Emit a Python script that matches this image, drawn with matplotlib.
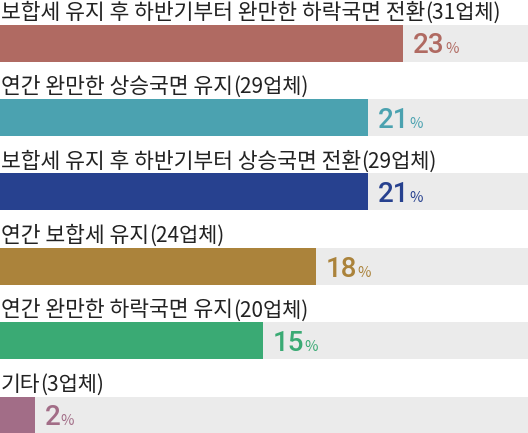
import matplotlib
matplotlib.use("Agg")
import matplotlib.pyplot as plt

plt.rcParams["font.family"] = ["Noto Sans CJK KR", "DejaVu Sans"]

labels = [
    "보합세 유지 후 하반기부터 완만한 하락국면 전환",
    "연간 완만한 상승국면 유지",
    "보합세 유지 후 하반기부터 상승국면 전환",
    "연간 보합세 유지",
    "연간 완만한 하락국면 유지",
    "기타",
]
counts = ["(31업체)", "(29업체)", "(29업체)", "(24업체)", "(20업체)", "(3업체)"]
shares = [23, 21, 21, 18, 15, 2]
colors = ["#b06a62", "#4ba2b0", "#27418f", "#ab833b", "#3aaa74", "#a26d87"]

X_MAX = 30.1
BG = "#ebebeb"
LABEL_RISE = 17.5   # points above bar centre
VALUE_DROP = -7.4   # points below bar centre

fig = plt.figure(figsize=(5.28, 4.33), dpi=100)
ax = fig.add_axes([0, 0, 1, 1])
ax.set_xlim(0, X_MAX)
ax.set_ylim(5.24, -0.578)
ax.axis("off")

ypos = list(range(len(shares)))
ax.barh(ypos, [X_MAX] * len(shares), height=0.497, color=BG)
ax.barh(ypos, shares, height=0.497, color=colors)

fig.canvas.draw()
renderer = fig.canvas.get_renderer()
px2pt = 72 / fig.dpi

for i, (lab, cnt, val, col) in enumerate(zip(labels, counts, shares, colors)):
    # category label above the bar, count in parentheses right after it
    t = ax.annotate(lab, xy=(0, i), xytext=(0.5, LABEL_RISE), textcoords="offset points",
                    ha="left", va="baseline", fontsize=15.5, color="#222222")
    bb = t.get_window_extent(renderer=renderer)
    ax.annotate(cnt, xy=(0, i), xycoords=("figure fraction", "data"),
                xytext=(bb.x1 * px2pt + 0.2, LABEL_RISE), textcoords="offset points",
                ha="left", va="baseline", fontsize=15, color="#222222")

    # value label right of the bar
    vt = ax.annotate(str(val), xy=(val, i), xytext=(7, VALUE_DROP), textcoords="offset points",
                     ha="left", va="baseline", fontsize=20, fontweight="medium",
                     family=["Roboto", "DejaVu Sans"], color=col)
    vb = vt.get_window_extent(renderer=renderer)
    ax.annotate("%", xy=(0, i), xycoords=("figure fraction", "data"),
                xytext=(vb.x1 * px2pt + 0.2, VALUE_DROP), textcoords="offset points",
                ha="left", va="baseline", fontsize=10.5, color=col)

fig.savefig("out.png", dpi=100)
